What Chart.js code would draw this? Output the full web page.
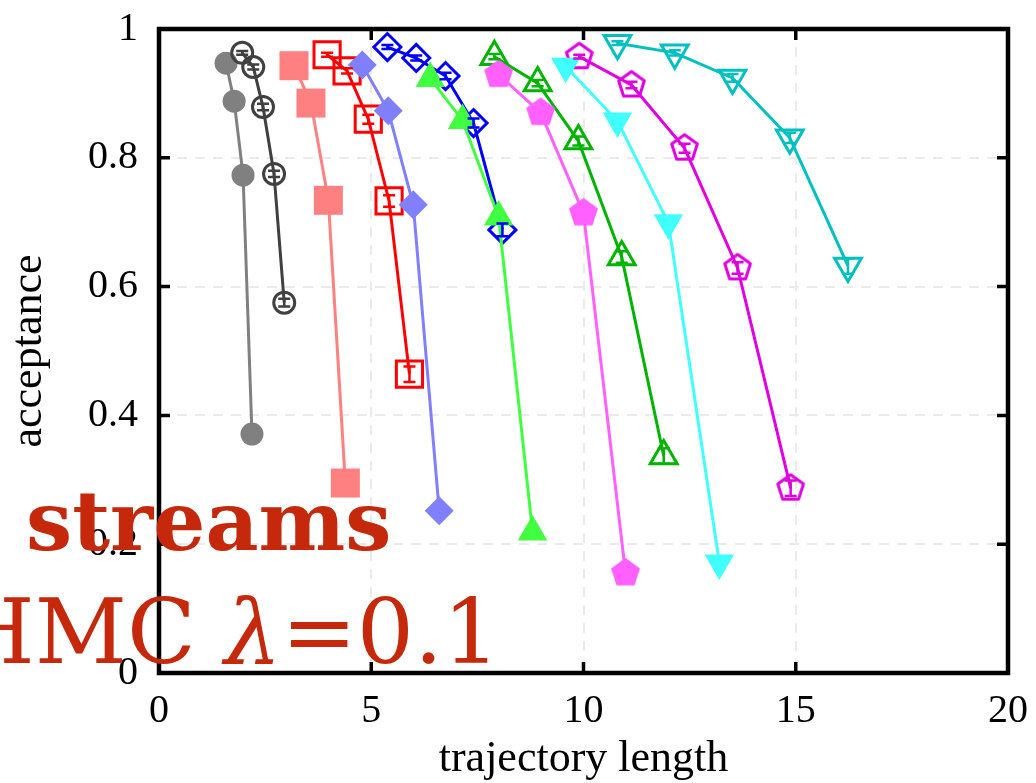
<!DOCTYPE html>
<html>
<head>
<meta charset="utf-8">
<script src="https://cdn.jsdelivr.net/npm/chart.js@4.4.1/dist/chart.umd.min.js"></script>
<style>
  html, body { margin: 0; padding: 0; background: #fff; }
  #wrap { width: 1036px; height: 783px; position: relative; }
</style>
</head>
<body>
<div id="wrap"><canvas id="acceptanceChart"></canvas></div>
<script>
  // acceptance vs trajectory length, one curve per step setting
  const xTicks = [0, 5, 10, 15, 20];
  const yTicks = [0, 0.2, 0.4, 0.6, 0.8, 1];

  const grayX = [1.58, 1.77, 1.98, 2.19];
  const grayY = [0.947, 0.888, 0.773, 0.371];

  const darkX = [1.96, 2.22, 2.45, 2.71, 2.95];
  const darkY = [0.963, 0.941, 0.879, 0.775, 0.575];
  const darkErr = [0.003, 0.004, 0.005, 0.005, 0.006];

  const salmonX = [3.18, 3.58, 3.99, 4.39];
  const salmonY = [0.943, 0.885, 0.734, 0.295];

  const redX = [3.96, 4.43, 4.93, 5.42, 5.90];
  const redY = [0.960, 0.935, 0.860, 0.733, 0.464];
  const redErr = [0.003, 0.004, 0.007, 0.009, 0.012];

  const lavenderX = [4.79, 5.40, 5.99, 6.60];
  const lavenderY = [0.944, 0.873, 0.727, 0.252];

  const blueX = [5.38, 6.06, 6.75, 7.41, 8.09];
  const blueY = [0.972, 0.955, 0.927, 0.854, 0.688];
  const blueErr = [0.003, 0.004, 0.005, 0.007, 0.010];

  const limeX = [6.39, 7.15, 8.00, 8.80];
  const limeY = [0.923, 0.858, 0.708, 0.219];

  const greenX = [7.90, 8.92, 9.88, 10.90, 11.89];
  const greenY = [0.957, 0.916, 0.826, 0.646, 0.337];
  const greenErr = [0.004, 0.005, 0.007, 0.009, 0.012];

  const pinkX = [8.00, 8.99, 10.00, 10.99];
  const pinkY = [0.929, 0.870, 0.714, 0.155];

  const magentaX = [9.90, 11.13, 12.38, 13.63, 14.88];
  const magentaY = [0.957, 0.913, 0.815, 0.629, 0.287];
  const magentaErr = [0.003, 0.005, 0.007, 0.009, 0.012];

  const cyanX = [9.58, 10.80, 12.00, 13.20];
  const cyanY = [0.942, 0.857, 0.699, 0.171];

  const tealX = [10.80, 12.15, 13.51, 14.86, 16.23];
  const tealY = [0.978, 0.963, 0.924, 0.831, 0.632];
  const tealErr = [0.003, 0.004, 0.006, 0.008, 0.012];

  const captionBold = "streams";
  const captionPlain = ["HMC ", "\u03bb", "=0.1"];

  const serif = "'Liberation Serif', 'DejaVu Serif', serif";
  const captionFont = "'DejaVu Serif', serif";
  const captionColor = "#c6280b";

  // pentagon markers are not built in, so draw them on small canvases
  function pentagon(radius, fill, stroke, lineWidth) {
    const pad = Math.ceil(lineWidth || 0) + 2;
    const size = Math.ceil(radius * 2 + pad * 2);
    const c = document.createElement("canvas");
    c.width = size;
    c.height = size;
    const g = c.getContext("2d");
    g.beginPath();
    for (let k = 0; k < 5; k++) {
      const a = -Math.PI / 2 + k * 2 * Math.PI / 5;
      const px = size / 2 + radius * Math.cos(a);
      const py = size / 2 + radius * Math.sin(a);
      if (k) g.lineTo(px, py); else g.moveTo(px, py);
    }
    g.closePath();
    if (fill) { g.fillStyle = fill; g.fill(); }
    if (stroke) {
      g.lineWidth = lineWidth;
      g.lineJoin = "round";
      g.strokeStyle = stroke;
      g.stroke();
    }
    return c;
  }

  const series = [
    { x: grayX, y: grayY, color: "#808080", style: "circle", radius: 11.5, filled: true },
    { x: darkX, y: darkY, err: darkErr, color: "#404040", style: "circle", radius: 10.5, filled: false },
    { x: salmonX, y: salmonY, color: "#ff8080", style: "rect", radius: 20.5, filled: true },
    { x: redX, y: redY, err: redErr, color: "#ff0000", style: "rect", radius: 18.5, filled: false },
    { x: lavenderX, y: lavenderY, color: "#8080ff", style: "rectRot", radius: 14.5, filled: true },
    { x: blueX, y: blueY, err: blueErr, color: "#0000ff", style: "rectRot", radius: 13.5, filled: false },
    { x: limeX, y: limeY, color: "#40ff40", style: "triangle", radius: 17, filled: true },
    { x: greenX, y: greenY, err: greenErr, color: "#00b400", style: "triangle", radius: 15.5, filled: false },
    { x: pinkX, y: pinkY, color: "#ff60ff", style: pentagon(15.2, "#ff60ff"), filled: true },
    { x: magentaX, y: magentaY, err: magentaErr, color: "#e000e0", style: pentagon(13.5, null, "#e000e0", 3), filled: false },
    { x: cyanX, y: cyanY, color: "#40ffff", style: "triangle", rotation: 180, radius: 17, filled: true },
    { x: tealX, y: tealY, err: tealErr, color: "#00c0c0", style: "triangle", rotation: 180, radius: 15.5, filled: false },
  ];

  const errorBars = {
    id: "errorBars",
    afterDatasetsDraw(chart) {
      const { ctx, scales: { x, y } } = chart;
      ctx.save();
      ctx.lineWidth = 2.5;
      series.forEach(s => {
        if (!s.err) return;
        ctx.strokeStyle = s.color;
        ctx.beginPath();
        s.x.forEach((xv, k) => {
          const px = x.getPixelForValue(xv);
          const top = y.getPixelForValue(s.y[k] + s.err[k]);
          const bot = y.getPixelForValue(s.y[k] - s.err[k]);
          ctx.moveTo(px, top); ctx.lineTo(px, bot);
          ctx.moveTo(px - 6, top); ctx.lineTo(px + 6, top);
          ctx.moveTo(px - 6, bot); ctx.lineTo(px + 6, bot);
        });
        ctx.stroke();
      });
      ctx.restore();
    }
  };

  // box frame with inward ticks on all four sides, then the caption on top
  const frame = {
    id: "frame",
    afterDraw(chart) {
      const { ctx, chartArea: a, scales: { x, y } } = chart;
      ctx.save();
      ctx.strokeStyle = "#000";
      ctx.lineWidth = 3.5;
      ctx.beginPath();
      xTicks.forEach(v => {
        const p = x.getPixelForValue(v);
        ctx.moveTo(p, a.bottom); ctx.lineTo(p, a.bottom - 11);
        ctx.moveTo(p, a.top); ctx.lineTo(p, a.top + 11);
      });
      yTicks.forEach(v => {
        const p = y.getPixelForValue(v);
        ctx.moveTo(a.left, p); ctx.lineTo(a.left + 11, p);
        ctx.moveTo(a.right, p); ctx.lineTo(a.right - 11, p);
      });
      ctx.stroke();
      ctx.lineWidth = 4.5;
      ctx.strokeRect(a.left, a.top, a.right - a.left, a.bottom - a.top);

      ctx.fillStyle = captionColor;
      ctx.textBaseline = "alphabetic";
      ctx.textAlign = "left";
      ctx.font = "bold 82px " + captionFont;
      ctx.fillText(captionBold, 26, 550);

      // second line is right aligned as a group, lambda set in italic
      const fonts = ["90px " + captionFont, "italic 90px " + captionFont, "90px " + captionFont];
      const widths = captionPlain.map((t, k) => { ctx.font = fonts[k]; return ctx.measureText(t).width; });
      let cx = 500 - widths.reduce((p, w) => p + w, 0);
      captionPlain.forEach((t, k) => {
        ctx.font = fonts[k];
        ctx.fillText(t, cx, 663);
        cx += widths[k];
      });
      ctx.restore();
    }
  };

  const noPadding = s => { s.paddingTop = 0; s.paddingBottom = 0; s.paddingLeft = 0; s.paddingRight = 0; };

  new Chart(document.getElementById("acceptanceChart"), {
    type: "scatter",
    data: {
      datasets: series.map((s, i) => ({
        data: s.x.map((v, k) => ({ x: v, y: s.y[k] })),
        showLine: true,
        tension: 0,
        borderColor: s.color,
        borderWidth: 3,
        pointStyle: s.style,
        pointRadius: s.radius || 14,
        pointRotation: s.rotation || 0,
        pointBackgroundColor: s.filled ? s.color : "rgba(0,0,0,0)",
        pointBorderColor: s.color,
        pointBorderWidth: s.filled ? 0 : 3,
        order: series.length - i,
      })),
    },
    options: {
      responsive: true,
      maintainAspectRatio: false,
      animation: false,
      events: [],
      layout: { padding: { top: 29, right: 28, left: 0, bottom: 0 } },
      plugins: { legend: { display: false }, tooltip: { enabled: false } },
      scales: {
        x: {
          type: "linear",
          min: 0,
          max: 20,
          afterBuildTicks: s => { s.ticks = xTicks.map(v => ({ value: v })); },
          ticks: { color: "#000", font: { family: serif, size: 40 }, padding: 14, maxRotation: 0, callback: v => String(v) },
          grid: { color: "#ebebeb", lineWidth: 2, drawTicks: false },
          border: { display: false, dash: [10, 8] },
          title: {
            display: true,
            text: "trajectory length",
            color: "#000",
            font: { family: serif, size: 44, lineHeight: 1 },
            padding: { top: 0, bottom: 2 },
          },
          afterFit: s => { s.height = 110; noPadding(s); },
        },
        y: {
          type: "linear",
          min: 0,
          max: 1,
          afterBuildTicks: s => { s.ticks = yTicks.map(v => ({ value: v })); },
          ticks: { color: "#000", font: { family: serif, size: 40 }, padding: 21, callback: v => String(v) },
          grid: { color: "#ebebeb", lineWidth: 2, drawTicks: false },
          border: { display: false, dash: [10, 8] },
          title: {
            display: true,
            text: "acceptance",
            color: "#000",
            font: { family: serif, size: 44, lineHeight: 1 },
            padding: { top: 7, bottom: 0 },
          },
          afterFit: s => { s.width = 159; noPadding(s); },
        },
      },
    },
    plugins: [errorBars, frame],
  });
</script>
</body>
</html>
